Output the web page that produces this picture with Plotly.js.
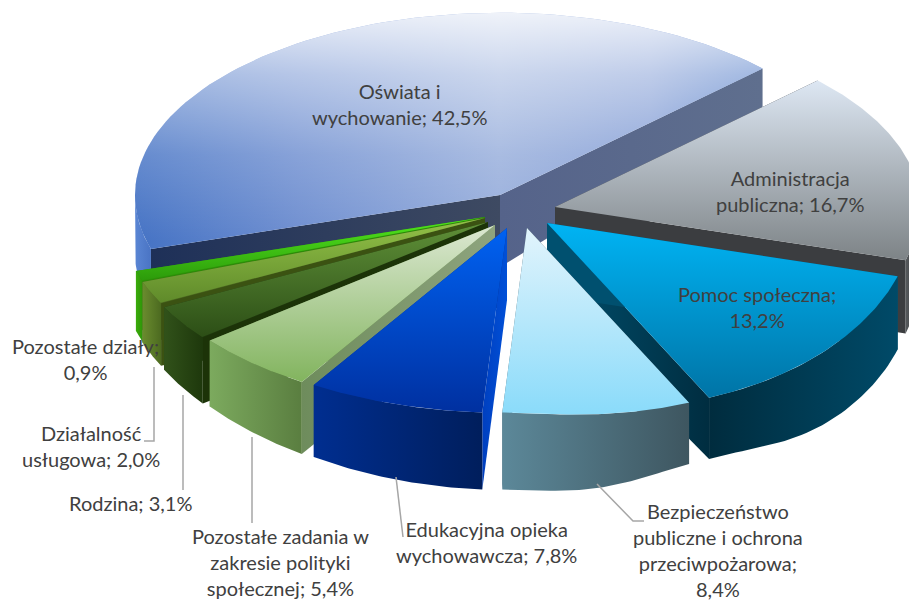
<!DOCTYPE html>
<html><head><meta charset="utf-8">
<script src="https://cdn.plot.ly/plotly-3.0.1.min.js"></script>
<style>html,body{margin:0;padding:0;background:#fff}#c{width:909px;height:601px}</style>
</head><body><div id="c"></div>
<script>
const categories=["Oświata i wychowanie","Administracja publiczna","Pomoc społeczna","Bezpieczeństwo publiczne i ochrona przeciwpożarowa","Edukacyjna opieka wychowawcza","Pozostałe zadania w zakresie polityki społecznej","Rodzina","Działalność usługowa","Pozostałe działy"];
const values=[42.5,16.7,13.2,8.4,7.8,5.4,3.1,2.0,0.9];
const tickLabels=["Oświata i<br>wychowanie; 42,5%","Administracja<br>publiczna; 16,7%","Pomoc społeczna;<br>13,2%","Bezpieczeństwo<br>publiczne i ochrona<br>przeciwpożarowa;<br>8,4%","Edukacyjna opieka<br>wychowawcza; 7,8%","Pozostałe zadania w<br>zakresie polityki<br>społecznej; 5,4%","Rodzina; 3,1%","Działalność<br>usługowa; 2,0%","Pozostałe działy;<br>0,9%"];

// pie geometry / style settings
const startDeg=253, RX=365, RY=185;
const hubX=[500,555,547,527,507,495,488,485,485];
const hubY=[195,207,223,228,228,225,222,218,217];
const labelX=[399,790,757,718,486,280,130,91,85];
const labelY=[104,191,307,550,542,562,503,446,359];
const topGrad=[null,["#DDE7F3","#7D8386"],["#00B4F4","#0074A6"],["#E2F4FC","#8ADBFA"],["#0062F2","#0030A0"],["#DCE8D2","#82B45E"],["#5F9038","#2C4E16"],["#93C248","#5F8A2A"],["#52E81E","#2C9A0A"]];
const outerGrad=[["#5A86D4","#4A74C4"],["#55595C","#3C3E41"],["#002C3E","#004A68"],["#5C8899","#3E5660"],["#002E90","#001E5C"],["#7CAA5E","#5A7E40"],["#31521A","#1E380C"],["#6A8C2E","#4C6A20"],["#3AAC0A","#2E9408"]];
const startWall=[["#1E3058","#3E4A62"],["#3B3D40","#3B3D40"],["#00506F","#00506F"],["#3E5660","#3E5660"],["#003FBF","#0050D8"],["#6E8C5C","#8EA47E"],["#1C3308","#1C3308"],["#3B5212","#3B5212"],["#2A8C06","#2A8C06"]];
const endWall=[["#55638A","#5F6F8E"],["#3B3D40","#3B3D40"],["#00506F","#002D40"],["#4A6A78","#4A6A78"],["#002E90","#002E90"],["#5A7E40","#5A7E40"],["#1E380C","#1E380C"],["#4C6A20","#4C6A20"],["#2E9408","#2E9408"]];
const baseShade=[[0,"#4472C4"],[0.26,"#6E8ED0"],[0.58,"#96ADDB"],[0.82,"#7F9AD4"],[1,"#4472C4"]];
const whiteVeil=[[0,"rgba(255,255,255,0.85)"],[0.26,"rgba(255,255,255,0.5)"],[0.6,"rgba(255,255,255,0.18)"],[0.97,"rgba(255,255,255,0)"],[1,"rgba(255,255,255,0)"]];

const rad=d=>d*Math.PI/180;
const total=values.reduce((a,b)=>a+b,0);
function depth(ux,uy){
  let d=72;
  if(uy>0)d*=1-0.66*uy; else d*=1-0.07*uy;
  if(ux<0)d*=1-0.2*ux*ux;
  if(ux>0&&uy<0)d*=1-0.2*Math.exp(-Math.pow((ux-0.47)/0.22,2));
  return d;
}
const traces=[];
function fillPoly(xs,ys,dir,scale,start,stop){
  traces.push({type:"scatter",mode:"lines",x:xs,y:ys,fill:"toself",line:{width:0},hoverinfo:"skip",showlegend:false,
    fillgradient:{type:dir,colorscale:scale,start:start,stop:stop}});
}
function poly(xs,ys,g,dir,start,stop){fillPoly(xs,ys,dir,[[0,g[0]],[1,g[1]]],start,stop);}
function rim(i,deg){const u=Math.sin(rad(deg)),v=Math.cos(rad(deg));
  const skew=(u>0&&v<0)?25*u*v*v:0;
  const ry=v>0?RY*0.985:RY;
  return {ux:u,uy:v,x:hubX[i]+RX*u,y:hubY[i]-ry*v+skew,d:depth(u,v)};}
function wallRadial(i,deg,g){
  const r=rim(i,deg),d0=depth(0,0);
  poly([hubX[i],r.x,r.x,hubX[i],hubX[i]],[hubY[i],r.y,r.y+r.d,hubY[i]+d0,hubY[i]],g,"horizontal",Math.min(hubX[i],r.x),Math.max(hubX[i],r.x));
}
function wallOuter(i,a,b,g){
  const lo=Math.max(a,90),hi=Math.min(b,270);
  if(hi<=lo)return;
  const xs=[],ys=[],xb=[],yb=[];
  for(let k=0;k<=40;k++){const r=rim(i,lo+(hi-lo)*k/40);xs.push(r.x);ys.push(r.y);xb.unshift(r.x);yb.unshift(r.y+r.d);}
  const X=xs.concat(xb,[xs[0]]),Y=ys.concat(yb,[ys[0]]);
  poly(X,Y,g,"horizontal",Math.min(...X),Math.max(...X));
}
function topPts(i,a,b,n){
  const xs=[hubX[i]],ys=[hubY[i]];
  for(let k=0;k<=n;k++){const r=rim(i,a+(b-a)*k/n);xs.push(r.x);ys.push(r.y);}
  xs.push(hubX[i]);ys.push(hubY[i]);
  return [xs,ys];
}
const bounds=[];let acc=startDeg;
values.forEach(v=>{const s=acc,e=acc+v/total*360;bounds.push([s,e]);acc=e;});
function drawSlice(i){
  const [a,b]=bounds[i];
  // the wall that faces the viewer goes last
  if(a>=180&&i!==0){wallRadial(i,b,endWall[i]);wallRadial(i,a,startWall[i]);}
  else{wallRadial(i,a,startWall[i]);wallRadial(i,b,endWall[i]);}
  let a2=a,b2=b;
  if(a2>=360){a2-=360;b2-=360;}
  wallOuter(i,a2,b2,outerGrad[i]);
  const [xs,ys]=topPts(i,a,b,90);
  if(i===0){
    fillPoly(xs,ys,"horizontal",baseShade,Math.min(...xs),Math.max(...xs));
    fillPoly(xs,ys,"vertical",whiteVeil,Math.min(...ys),Math.max(...ys));
  }else{
    poly(xs,ys,topGrad[i],"vertical",Math.min(...ys),Math.max(...ys));
  }
}
[0,1,2,3,8,7,6,5,4].forEach(drawSlice);

// leader lines
const leaders=[[[597,633,644],[484,521,521]],[[396,403],[477,537]],[[252,252],[437,523]],[[183,183],[395,490]],[[154,154,144],[367,441,441]]];
leaders.forEach(l=>traces.push({type:"scatter",mode:"lines",x:l[0],y:l[1],line:{color:"#A6A6A6",width:1.5},hoverinfo:"skip",showlegend:false}));

const annotations=tickLabels.map((t,i)=>({xref:"x",yref:"y",x:labelX[i],y:labelY[i],text:t,showarrow:false,xanchor:"center",yanchor:"middle",align:"center",font:{family:"Lato, Carlito, sans-serif",size:20,color:"#404040"}}));

Plotly.newPlot("c",traces,{width:909,height:601,margin:{l:0,r:0,t:0,b:0},paper_bgcolor:"#fff",plot_bgcolor:"#fff",showlegend:false,hovermode:false,
  xaxis:{range:[0,909],visible:false,fixedrange:true},yaxis:{range:[601,0],visible:false,fixedrange:true},annotations},{displayModeBar:false,staticPlot:true});
</script></body></html>
